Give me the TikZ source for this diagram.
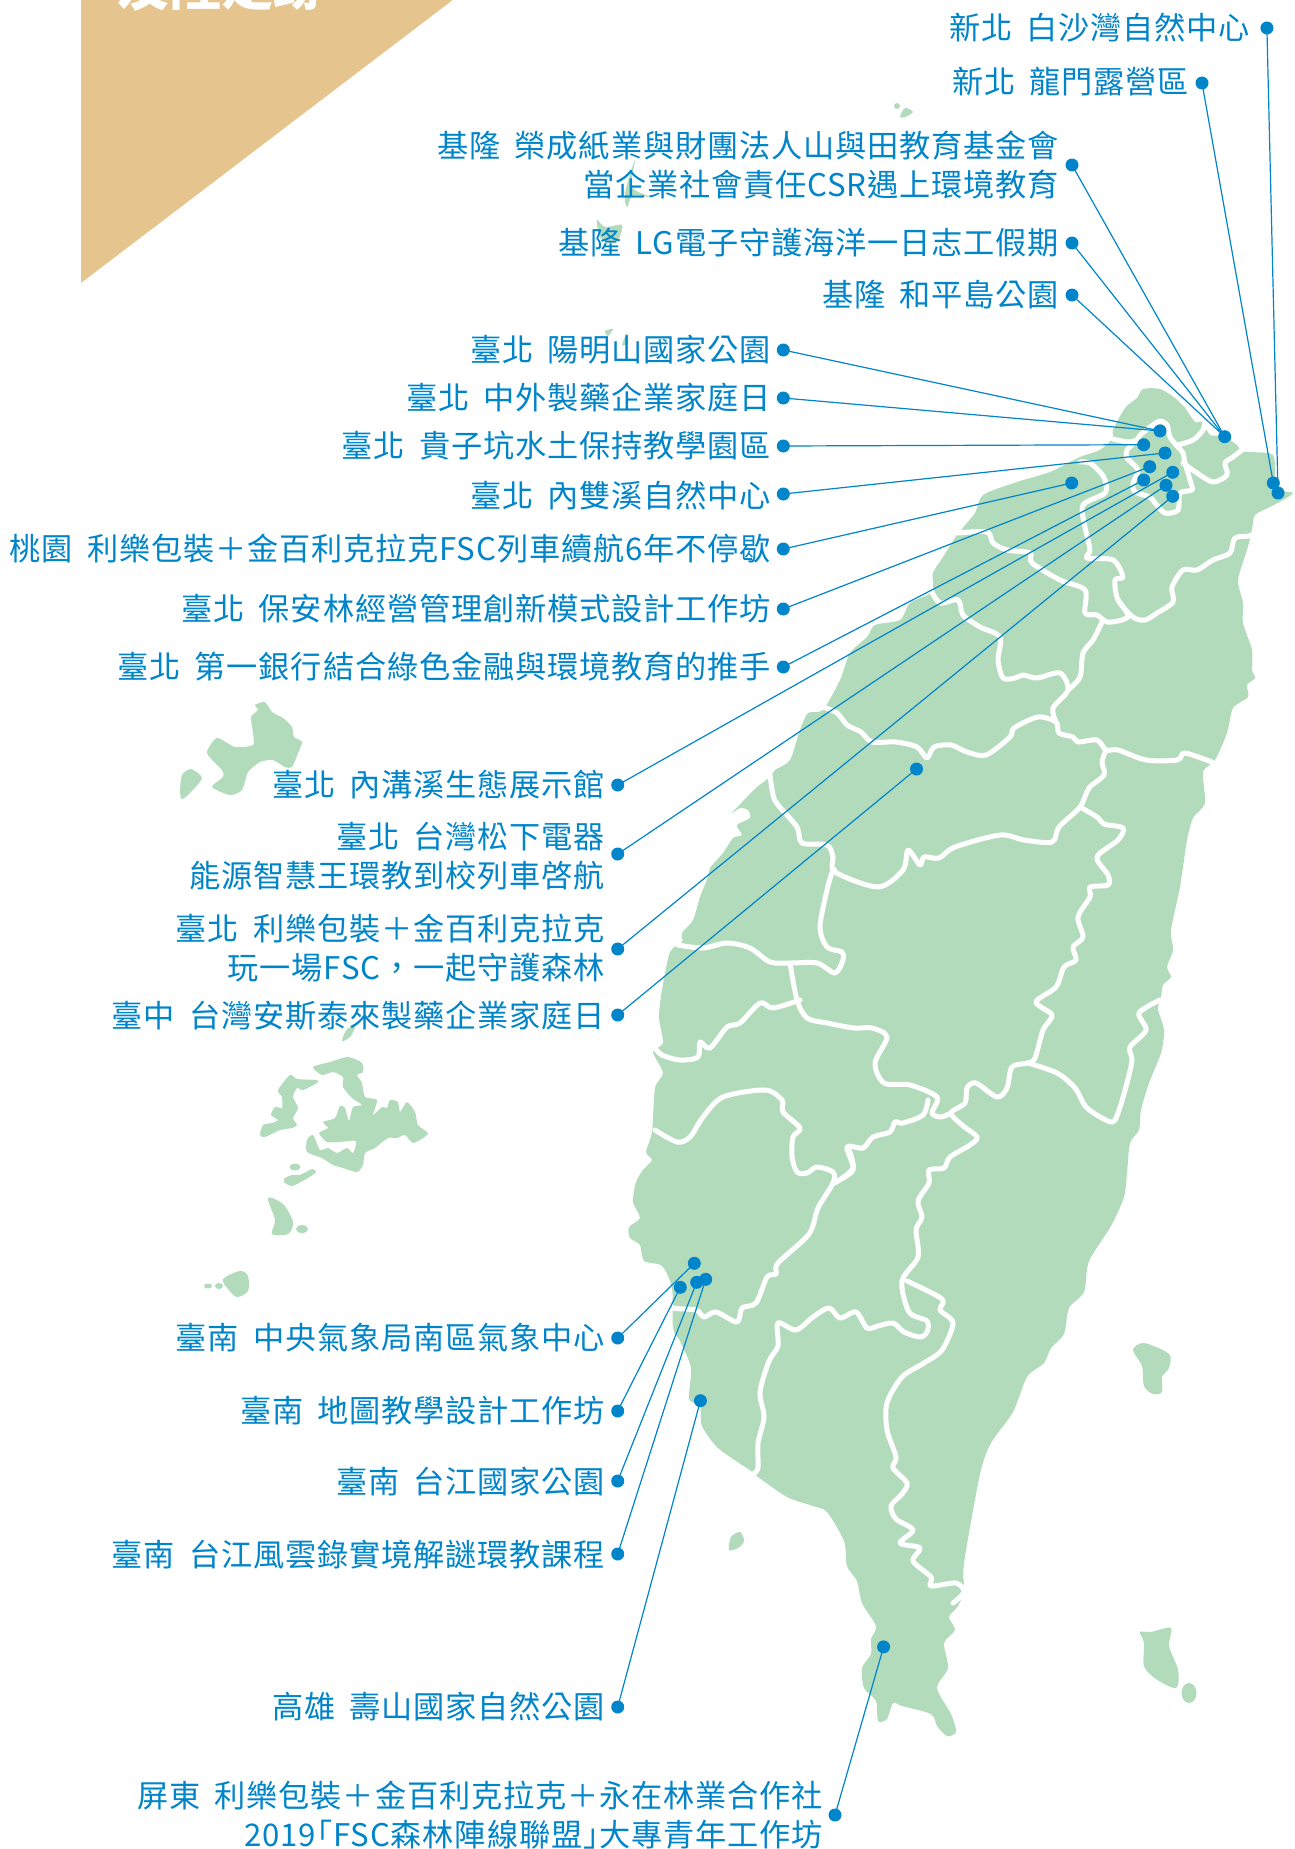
\documentclass[tikz,border=0pt]{standalone}
\usepackage{fontspec}
\newfontfamily\cjkfont[LetterSpace=2.7]{Noto Sans CJK TC}
\newfontfamily\cjktitle{Noto Sans CJK TC}
\definecolor{landgreen}{HTML}{B2DBBC}
\definecolor{pinblue}{HTML}{0084CA}
\definecolor{tansand}{HTML}{E5C48E}
\tikzset{
  isle/.style={fill=landgreen,draw=none},
  border/.style={draw=white,line width=5pt,line cap=round,line join=round},
  pin/.style={circle,fill=pinblue,draw=none,minimum size=13pt,inner sep=0pt},
  lab/.style={anchor=east,align=right,text=pinblue,inner sep=0pt,font=\cjkfont\fontsize{31.2pt}{38.5pt}\selectfont},
  lead/.style={draw=pinblue,line width=1.2pt}
}
\newcommand{\gp}{\hspace{14pt}}
\begin{document}
\begin{tikzpicture}[x=1pt,y=-1pt]
\useasboundingbox (0,0) rectangle (1294,1849);
\begin{scope}
\clip (0,0) rectangle (1294,1849);
\fill[tansand] (81,-1) -- (454,-1) -- (81,283) -- cycle;
\node[anchor=base west,inner sep=0pt,text=white,font=\cjktitle\bfseries\fontsize{52pt}{52pt}\selectfont] (title) at (117,6) {及陸足跡};
% main island
\fill[isle] plot[smooth cycle,tension=0.45] coordinates {
(1143,389)(1160,389)(1175,398)(1185,408)(1195,422)(1202,422)(1210,435)(1223,436)(1237,445)(1241,451)(1250,452)(1273,455)(1275,478)(1280,490)(1293,493)(1283,500)(1270,507)(1255,515)(1252,530)(1247,550)(1238,580)(1243,603)(1243,623)(1252,650)(1252,670)(1255,678)(1247,685)(1248,697)(1233,708)(1227,733)(1215,760)(1203,772)(1205,803)(1193,818)(1187,840)(1180,887)(1171,930)(1173,950)(1167,967)(1171,977)(1163,985)(1161,998)(1158,1009)(1164,1030)(1161,1053)(1149,1083)(1141,1110)(1139,1130)(1130,1143)(1127,1173)(1124,1197)(1111,1226)(1089,1261)(1084,1292)(1069,1308)(1064,1334)(1051,1348)(1044,1363)(1027,1377)(1013,1412)(991,1443)(980,1474)(964,1563)(964,1590)(958,1606)(949,1617)(955,1630)(944,1643)(948,1668)(937,1688)(951,1714)(956,1732)(947,1736)(937,1726)(931,1714)(902,1706)(893,1703)(887,1719)(878,1721)(876,1701)(864,1688)(862,1668)(871,1654)(871,1639)(876,1626)(862,1603)(857,1581)(847,1566)(844,1541)(827,1512)(813,1506)(787,1497)(758,1477)(751,1471)(718,1448)(702,1426)(700,1406)(689,1399)(691,1368)(680,1341)(673,1328)(672,1288)(662,1266)(644,1261)(640,1245)(630,1238)(629,1227)(640,1218)(633,1202)(636,1182)(643,1170)(652,1160)(646,1152)(652,1132)(655,1088)(663,1073)(653,1052)(663,1043)(659,1017)(662,990)(670,952)(682,942)(682,933)(693,920)(700,897)(708,877)(710,868)(723,853)(733,838)(742,835)(737,825)(750,818)(748,810)(740,808)(732,813)(747,797)(757,787)(770,777)(775,770)(790,760)(800,730)(808,713)(823,710)(840,680)(850,653)(867,637)(875,625)(900,620)(910,603)(932,592)(933,573)(943,557)(957,535)(975,513)(983,495)(1017,482)(1050,472)(1080,457)(1100,450)(1113,438)(1113,430)(1125,408)(1137,398)};
% islands
\fill[isle] plot[smooth cycle,tension=0.4] coordinates {(255,705)(265,702)(272,712)(283,718)(292,727)(294,737)(302,742)(298,753)(292,767)(285,767)(273,760)(260,762)(248,772)(242,790)(230,795)(212,787)(223,777)(222,770)(207,753)(217,738)(235,747)(253,745)(253,733)(251,717)(258,710)};
\fill[isle] plot[smooth cycle,tension=0.4] coordinates {(182,775)(191,769)(202,778)(190,793)(182,799)(180,792)};
\fill[isle] plot[smooth cycle,tension=0.4] coordinates {(313,1067)(330,1062)(348,1057)(362,1063)(363,1072)(357,1075)(362,1083)(365,1097)(377,1100)(373,1115)(382,1107)(387,1108)(390,1100)(398,1102)(400,1112)(407,1102)(415,1112)(418,1125)(428,1133)(423,1138)(413,1143)(405,1135)(397,1138)(388,1138)(375,1148)(365,1153)(363,1165)(357,1172)(343,1168)(333,1165)(322,1158)(307,1152)(307,1140)(313,1135)(320,1150)(328,1148)(337,1153)(347,1148)(353,1153)(356,1141)(340,1142)(327,1142)(319,1133)(328,1128)(323,1122)(335,1118)(340,1106)(345,1108)(349,1121)(353,1107)(362,1105)(352,1098)(343,1087)(343,1077)(333,1072)(322,1075)};
\fill[isle] plot[smooth cycle,tension=0.4] coordinates {(278,1090)(290,1075)(297,1079)(317,1080)(317,1083)(303,1090)(297,1088)(293,1097)(298,1108)(293,1118)(297,1125)(292,1128)(280,1130)(265,1137)(260,1135)(263,1125)(272,1123)(278,1120)(271,1115)(275,1107)(282,1108)(282,1097)};
\fill[isle] (295,1167) ellipse (5.5pt and 3.5pt);
\fill[isle] plot[smooth cycle,tension=0.4] coordinates {(285,1178)(292,1175)(300,1175)(312,1169)(316,1172)(308,1178)(292,1186)(284,1182)};
\fill[isle] plot[smooth cycle,tension=0.5] coordinates {(268,1198)(283,1204)(293,1222)(288,1234)(272,1234)(275,1220)};
\fill[isle] (302,1229) ellipse (6pt and 4pt);
\fill[isle] plot[smooth cycle,tension=0.5] coordinates {(342,1041)(347,1029)(355,1027)(350,1037)};
\fill[isle] plot[smooth cycle,tension=0.5] coordinates {(223,1279)(240,1271)(248,1276)(248,1291)(237,1297)(228,1289)};
\fill[isle] (208,1286) ellipse (4pt and 2.5pt);
\fill[isle] (219,1286) ellipse (4pt and 3pt);
\fill[isle] plot[smooth cycle,tension=0.5] coordinates {(731,1537)(740,1532)(744,1541)(738,1548)(729,1550)};
\fill[isle] plot[smooth cycle,tension=0.5] coordinates {(1133,1350)(1144,1343)(1169,1354)(1169,1368)(1162,1377)(1162,1392)(1153,1394)(1144,1386)(1142,1366)};
\fill[isle] plot[smooth cycle,tension=0.5] coordinates {(1140,1632)(1151,1632)(1171,1628)(1169,1646)(1178,1670)(1176,1688)(1156,1679)(1144,1666)(1144,1643)};
\fill[isle] (1189,1693) ellipse (7.5pt and 10pt);
\fill[isle] (897,106) circle (3pt);
\fill[isle] plot[smooth cycle,tension=0.5] coordinates {(900,117)(905,108)(913,112)(905,117)};
\fill[isle] plot[smooth cycle,tension=0.5] coordinates {(635,160)(632,187)(650,197)(633,195)(627,207)(625,193)};
\fill[isle] plot[smooth cycle,tension=0.5] coordinates {(597,220)(605,227)(622,225)(618,240)(610,243)(600,237)};
\fill[isle] plot[smooth cycle,tension=0.5] coordinates {(605,331)(613,329)(608,336)};
\fill[isle] plot[smooth cycle,tension=0.5] coordinates {(627,333)(628,343)(622,345)};
% county borders
\draw[border] plot[smooth cycle,tension=0.5] coordinates {(1137,440)(1140,435)(1153,425)(1160,421)(1167,425)(1170,437)(1178,447)(1183,453)(1185,463)(1190,480)(1192,490)(1180,493)(1178,510)(1165,513)(1155,503)(1150,497)(1135,492)(1133,483)(1138,470)(1127,458)(1127,450)};
\draw[border] plot[smooth,tension=0.5] coordinates {(1113,439)(1128,442)(1137,440)};
\draw[border] plot[smooth,tension=0.5] coordinates {(1178,445)(1193,440)(1203,430)(1205,420)};
\draw[border] plot[smooth,tension=0.5] coordinates {(1183,463)(1197,473)(1213,482)(1227,475)(1225,463)(1233,457)(1242,450)};
\draw[border] plot[smooth,tension=0.5] coordinates {(1080,462)(1090,463)(1100,472)(1105,480)(1105,493)(1083,505)(1085,527)(1090,550)(1087,558)(1113,560)(1123,577)(1115,580)(1118,600)(1133,617)(1145,620)(1157,613)(1173,602)(1172,587)(1183,570)(1197,570)(1213,560)(1230,553)(1235,538)(1252,535)(1257,522)};
\draw[border] plot[smooth,tension=0.5] coordinates {(958,533)(987,532)(993,543)(1007,550)(1030,553)(1032,563)(1060,580)(1085,590)(1085,613)(1097,615)(1107,622)(1122,620)(1128,615)(1118,600)};
\draw[border] plot[smooth,tension=0.5] coordinates {(1102,622)(1093,640)(1083,653)(1080,677)(1068,690)};
\draw[border] plot[smooth,tension=0.5] coordinates {(932,592)(940,603)(958,600)(963,615)(980,627)(1000,637)(998,660)(1003,678)(1015,678)(1023,675)(1037,678)(1060,673)(1068,690)(1053,708)(1056,722)};
\draw[border] plot[smooth,tension=0.5] coordinates {(820,706)(837,713)(847,725)(861,732)(872,742)(896,742)(917,747)(927,758)(934,747)(951,745)(967,752)(986,755)(1010,737)(1014,728)(1038,717)(1056,722)(1059,733)(1073,737)(1078,742)(1097,740)(1106,750)(1118,750)(1146,760)(1177,760)(1184,753)(1201,758)(1212,762)};
\draw[border] plot[smooth,tension=0.5] coordinates {(1106,750)(1102,762)(1104,775)(1089,788)(1080,807)(1059,827)(1052,842)(1024,840)(1000,835)(955,847)(939,858)(924,857)(920,865)(908,850)(903,870)(878,887)(835,872)(833,857)(827,845)(802,843)(797,827)(778,805)(773,795)(770,775)};
\draw[border] plot[smooth,tension=0.5] coordinates {(835,872)(833,870)(827,890)(820,927)(827,947)(842,952)(843,960)(835,973)(817,963)(790,963)(770,962)(750,948)(727,943)(703,948)(678,945)};
\draw[border] plot[smooth,tension=0.5] coordinates {(790,963)(797,1000)(807,1018)(827,1023)(854,1028)(872,1028)(887,1037)(875,1063)(884,1083)(910,1085)(937,1097)(932,1113)(941,1117)(951,1113)};
\draw[border] plot[smooth,tension=0.5] coordinates {(800,1000)(773,1008)(760,1003)(740,1023)(727,1027)(710,1048)(700,1042)(698,1057)(680,1060)(662,1055)(655,1048)};
\draw[border] plot[smooth,tension=0.5] coordinates {(1080,807)(1097,817)(1104,824)(1123,828)(1118,840)(1097,857)(1108,875)(1108,885)(1090,887)(1090,897)(1078,917)(1083,937)(1073,947)(1076,960)(1064,967)(1056,987)(1036,1002)(1052,1015)(1043,1030)(1035,1058)(1028,1063)(1012,1067)(1007,1088)(997,1097)(976,1083)(967,1088)(965,1103)(951,1113)(962,1125)(977,1137)(970,1145)(950,1157)(944,1168)(929,1170)(929,1183)(918,1201)(922,1217)(916,1230)(918,1257)(902,1281)(909,1312)(927,1321)(927,1332)(920,1337)(904,1332)(893,1323)(878,1326)(867,1328)(856,1312)(840,1318)(829,1308)(813,1317)(796,1330)(778,1323)(778,1346)(769,1361)(760,1392)(764,1417)(758,1443)(758,1468)(753,1474)};
\draw[border] plot[smooth,tension=0.5] coordinates {(1028,1063)(1057,1073)(1075,1088)(1087,1108)(1111,1122)(1118,1113)(1127,1083)(1132,1060)(1130,1047)(1146,1030)(1139,1013)(1160,1000)};
\draw[border] plot[smooth,tension=0.5] coordinates {(655,1130)(677,1142)(690,1137)(703,1117)(723,1097)(765,1090)(782,1100)(783,1112)(800,1128)(793,1137)(792,1157)(797,1172)(807,1173)(817,1167)(833,1172)(833,1183)(818,1208)(809,1234)(778,1263)(776,1274)(767,1277)(756,1303)(742,1308)(737,1322)(716,1312)(704,1317)(696,1310)(673,1308)(667,1301)};
\draw[border] plot[smooth,tension=0.5] coordinates {(833,1183)(853,1170)(847,1147)(863,1148)(873,1137)(890,1132)(895,1122)(903,1123)(923,1115)(928,1100)};
\draw[border] plot[smooth,tension=0.5] coordinates {(849,1150)(853,1168)(838,1181)(833,1183)};
\draw[border] plot[smooth,tension=0.5] coordinates {(907,1281)(942,1299)(940,1310)(953,1323)(942,1350)(924,1363)(902,1377)(887,1403)(887,1430)(896,1457)(893,1468)(907,1483)(902,1494)(891,1506)(896,1519)(913,1530)(900,1543)(920,1548)(913,1561)(931,1577)(931,1586)(956,1583)(964,1592)(953,1603)};
\end{scope}
% labels
\node[lab] (l1) at (1250,28) {新北\gp 白沙灣自然中心};
\node[lab] (l2) at (1189,82) {新北\gp 龍門露營區};
\node[lab] (l3) at (1059,165) {基隆\gp 榮成紙業與財團法人山與田教育基金會\\當企業社會責任CSR遇上環境教育};
\node[lab] (l4) at (1059,243) {基隆\gp LG電子守護海洋一日志工假期};
\node[lab] (l5) at (1059,295) {基隆\gp 和平島公園};
\node[lab] (l6) at (771,350) {臺北\gp 陽明山國家公園};
\node[lab] (l7) at (771,398) {臺北\gp 中外製藥企業家庭日};
\node[lab] (l8) at (771,446) {臺北\gp 貴子坑水土保持教學園區};
\node[lab] (l9) at (771,496) {臺北\gp 內雙溪自然中心};
\node[lab] (l10) at (771,549) {桃園\gp 利樂包裝＋金百利克拉克FSC列車續航6年不停歇};
\node[lab] (l11) at (771,609) {臺北\gp 保安林經營管理創新模式設計工作坊};
\node[lab] (l12) at (771,667) {臺北\gp 第一銀行結合綠色金融與環境教育的推手};
\node[lab] (l13) at (605,785) {臺北\gp 內溝溪生態展示館};
\node[lab] (l14) at (605,856) {臺北\gp 台灣松下電器\\能源智慧王環教到校列車啓航};
\node[lab] (l15) at (605,948) {臺北\gp 利樂包裝＋金百利克拉克\\玩一場FSC，一起守護森林};
\node[lab] (l16) at (605,1016) {臺中\gp 台灣安斯泰來製藥企業家庭日};
\node[lab] (l17) at (605,1338) {臺南\gp 中央氣象局南區氣象中心};
\node[lab] (l18) at (605,1411) {臺南\gp 地圖教學設計工作坊};
\node[lab] (l19) at (605,1482) {臺南\gp 台江國家公園};
\node[lab] (l20) at (605,1555) {臺南\gp 台江風雲錄實境解謎環教課程};
\node[lab] (l21) at (605,1707) {高雄\gp 壽山國家自然公園};
\node[lab] (l22) at (823,1815) {屏東\gp 利樂包裝＋金百利克拉克＋永在林業合作社\\2019\hspace{-15pt}「FSC森林陣線聯盟」\hspace{-15pt}大專青年工作坊};
% label dots
\foreach \n/\x/\y in {a1/1266.9/28,a2/1202/83,a3/1072/165,a4/1072/243,a5/1072/295,a6/783.3/350,a7/783.3/398,a8/783.3/446,a9/783.3/494,a10/783.3/549,a11/783.3/609,a12/783.3/667,a13/617.7/785,a14/617.7/854,a15/617.7/949,a16/617.7/1015,a17/617.7/1338,a18/617.7/1411,a19/617.7/1481,a20/617.7/1554,a21/617.7/1707,a22/835/1815}
  \node[pin] (\n) at (\x,\y) {};
% map dots
\foreach \n/\x/\y in {b1/1278/493,b2/1273.3/483,b3/1224.7/436.7,b6/1160/431,b8/1143.7/444.7,b9/1165/453,b10/1071.7/483,b11/1149.7/466.7,b12/1143.7/480,b13/1172.7/472.3,b14/1166/485.3,b15/1172.7/496.3,b16/916.5/769,b17/694.3/1263.3,b18/680.3/1287.3,b19/696.7/1282.3,b20/705.7/1279.3,b21/700.4/1400.7,b22/883.6/1646.9}
  \node[pin] (\n) at (\x,\y) {};
% leaders
\foreach \p/\q in {a1/b1,a2/b2,a3/b3,a4/b3,a5/b3,a6/b6,a7/b6,a8/b8,a9/b9,a10/b10,a11/b11,a12/b12,a13/b13,a14/b14,a15/b15,a16/b16,a17/b17,a18/b18,a19/b19,a20/b20,a21/b21,a22/b22}
  \draw[lead] (\p.center) -- (\q.center);
\end{tikzpicture}
\end{document}
